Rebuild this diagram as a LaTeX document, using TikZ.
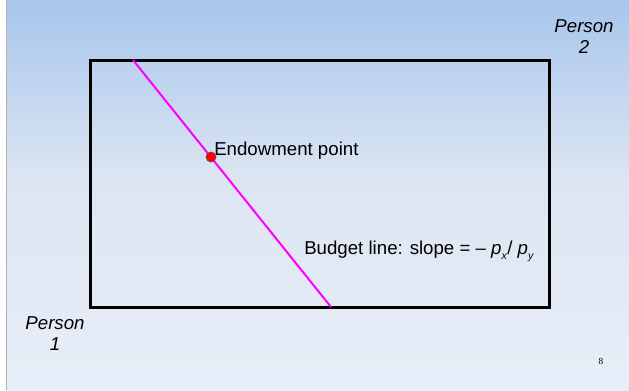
\documentclass[tikz,border=0pt]{standalone}
\usepackage{fontspec}
\setmainfont{Liberation Sans}
\newfontfamily\slidenumfont{Liberation Serif}
\definecolor{skytop}{RGB}{168,198,236}
\definecolor{skymid}{RGB}{220,229,242}
\definecolor{skybot}{RGB}{232,238,248}
\definecolor{budget}{RGB}{255,0,255}
\begin{document}
\begin{tikzpicture}[
    x=0.75pt, y=-0.75pt,
    every node/.style={font=\fontsize{14}{15.75}\selectfont},
    person/.style={align=center, font=\fontsize{14}{15.75}\selectfont\itshape},
    edgebox/.style={draw=black, line width=2.25pt},
    budgetline/.style={draw=budget, line width=1.5pt}
]
\useasboundingbox (0,0) rectangle (629,390);

% background
\fill[white] (0,0) rectangle (7,390);
\shade[top color=skytop, bottom color=skymid] (7,0) rectangle (629,180);
\shade[top color=skymid, middle color=skymid, bottom color=skybot] (7,179.5) rectangle (629,390);
\draw[gray!60, line width=0.9pt] (6.5,0) -- (6.5,390);

% Edgeworth box
\coordinate (sw) at (90,307);
\coordinate (ne) at (549,60);
\draw[edgebox] (sw) rectangle (ne);

% budget line and endowment
\coordinate (btop) at (133,60);
\coordinate (bbot) at (331,307);
\draw[budgetline] (btop) -- (bbot);
\node (endow) [circle, fill=red, draw=black!70, line width=0.5pt, inner sep=0pt, minimum size=7.5pt] at (211,157) {};

\node (endowlbl) [anchor=base west, inner sep=0pt] at (214,155) {Endowment point};
\node (budgetlbl) [anchor=base west, inner sep=0pt] at (304,254)
    {Budget line: slope = -- \textit{p}\raisebox{-0.6ex}{\fontsize{8}{8}\selectfont\textit{x}}/ \textit{p}\raisebox{-0.6ex}{\fontsize{8}{8}\selectfont\textit{y}}};

\node (pers2) [person, anchor=base] at (584,53) {Person\\2};
\node (pers1) [person, anchor=base] at (55,350) {Person\\1};

\node (slidenum) [font=\slidenumfont\fontsize{7}{8}\selectfont] at (601,361) {8};

\end{tikzpicture}
\end{document}
